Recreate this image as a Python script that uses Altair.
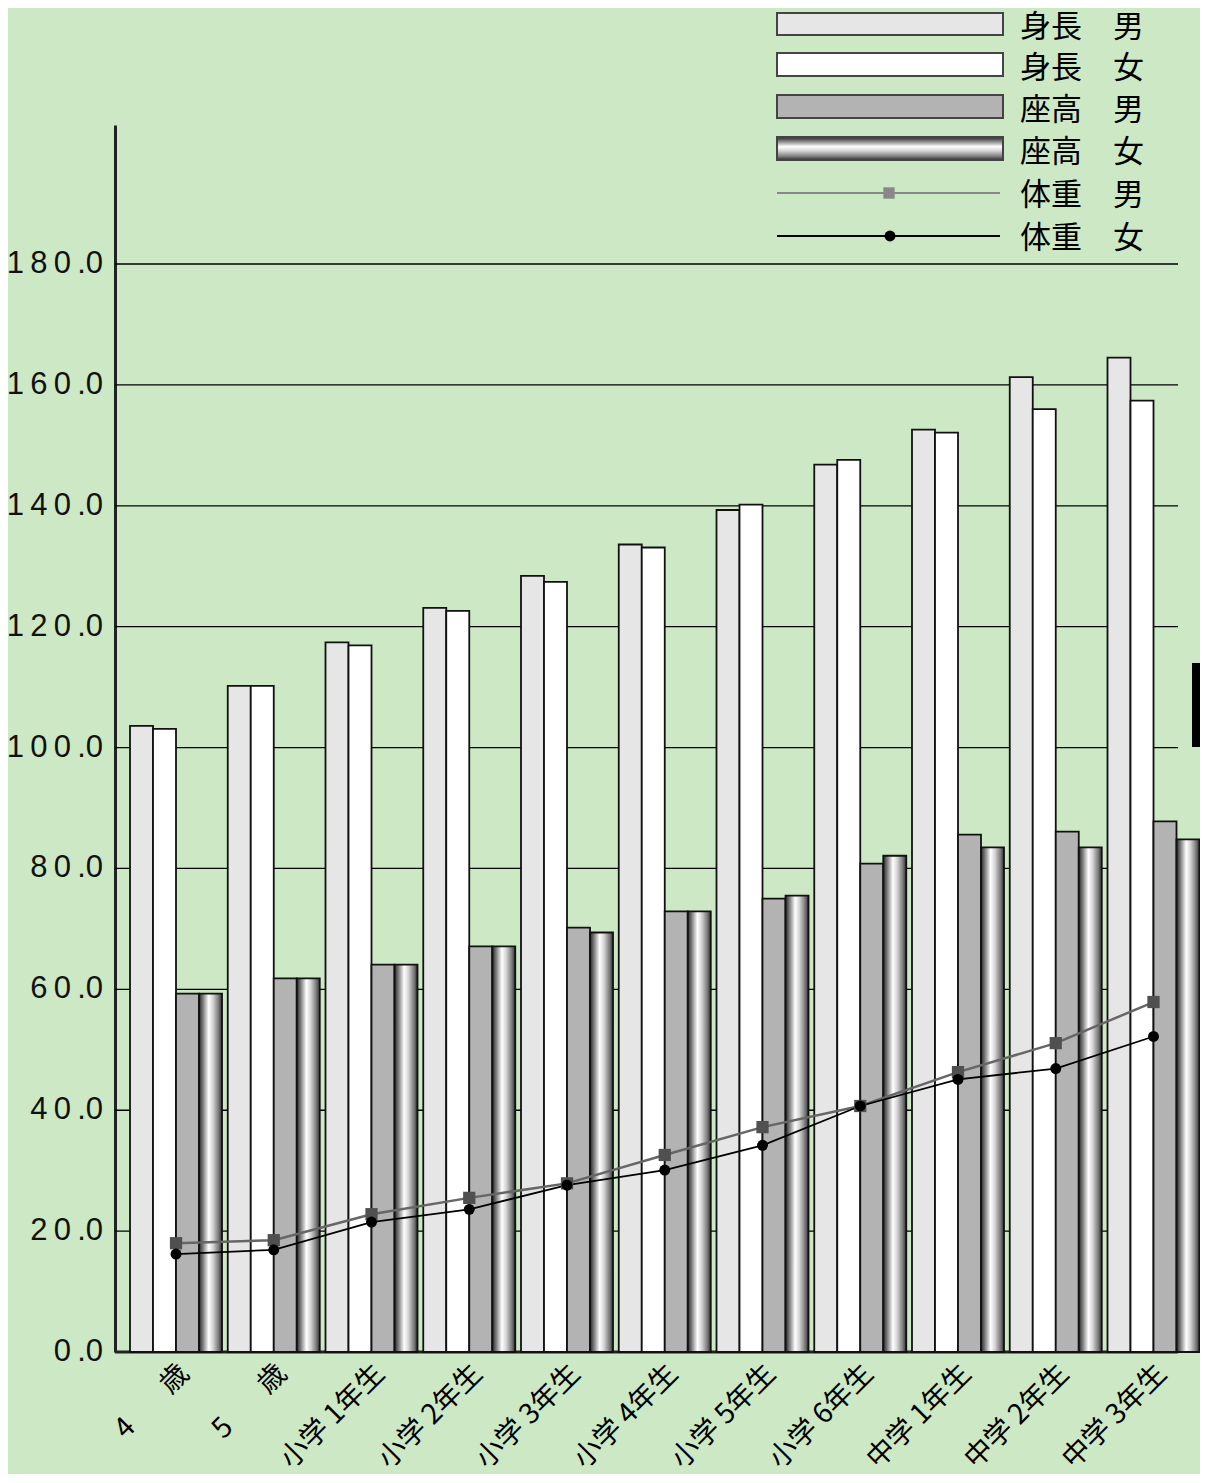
import altair as alt
import pandas as pd

# ---------------- data ----------------
categories = ["4\u3000\u2002 歳", "5\u3000\u2002 歳", "小学 1年生", "小学 2年生", "小学 3年生",
              "小学 4年生", "小学 5年生", "小学 6年生", "中学 1年生", "中学 2年生", "中学 3年生"]
series = ["身長　男", "身長　女", "座高　男", "座高　女"]
height_m = [103.6, 110.2, 117.4, 123.1, 128.4, 133.6, 139.3, 146.8, 152.6, 161.3, 164.5]
height_f = [103.1, 110.2, 116.9, 122.6, 127.4, 133.1, 140.2, 147.6, 152.1, 156.0, 157.4]
sit_m = [59.3, 61.8, 64.1, 67.1, 70.2, 72.9, 75.0, 80.8, 85.6, 86.1, 87.8]
sit_f = [59.3, 61.8, 64.1, 67.1, 69.4, 72.9, 75.5, 82.1, 83.5, 83.5, 84.8]
weight_m = [18.0, 18.5, 22.8, 25.5, 27.9, 32.6, 37.2, 40.7, 46.3, 51.1, 57.9]
weight_f = [16.2, 16.9, 21.5, 23.6, 27.6, 30.1, 34.2, 40.7, 45.1, 46.9, 52.2]
y_ticks = [0, 20, 40, 60, 80, 100, 120, 140, 160, 180]
y_labels = ["\u2009".join(list(str(v))) + "\u2009.0" for v in y_ticks]

BG = "#cce8c4"
FONT_JP = "Noto Sans CJK JP"
FONT_NUM = "Liberation Sans"

bars_df = pd.DataFrame({
    "cat": categories * 3,
    "series": [series[0]] * 11 + [series[1]] * 11 + [series[2]] * 11,
    "v": height_m + height_f + sit_m,
})
grad_df = pd.DataFrame({"cat": categories, "series": [series[3]] * 11, "v": sit_f})
wm_df = pd.DataFrame({"cat": categories, "v": weight_m})
wf_df = pd.DataFrame({"cat": categories, "v": weight_f})
grid_df = pd.DataFrame({"v": y_ticks[1:]})
zero_df = pd.DataFrame({"v": [0]})
ylab_df = pd.DataFrame({"v": y_ticks, "lab": y_labels})

W, H = 1085, 1227

xscale = alt.Scale(paddingInner=0.0588, paddingOuter=0.0793, align=0.968)
xaxis = alt.Axis(title=None, domain=False, ticks=False, grid=False, labelAngle=-45,
                 labelAlign="right", labelBaseline="middle", labelPadding=17,
                 labelOffset=9, labelFont=FONT_JP, labelFontSize=28, labelColor="#000",
                 labelOverlap=False, labelBound=False)
yscale = alt.Scale(domain=[0, 203], nice=False, zero=True)
yaxis = alt.Axis(title=None, labels=False, ticks=False, grid=False,
                 domainColor="#222", domainWidth=3)


def X():
    return alt.X("cat:N", sort=categories, scale=xscale, axis=xaxis, title=None)


def Y():
    return alt.Y("v:Q", scale=yscale, axis=yaxis, title=None)


xoff = alt.XOffset("series:N", sort=series,
                   scale=alt.Scale(domain=series, paddingInner=0, paddingOuter=0))

stops = [("#262626", 0), ("#808080", 0.18), ("#ffffff", 0.42),
         ("#d6d6d6", 0.6), ("#7a7a7a", 0.85), ("#303030", 1)]
grad_h = alt.Gradient(gradient="linear", x1=0, y1=0, x2=1, y2=0,
                      stops=[alt.GradientStop(color=c, offset=o) for c, o in stops])
grad_v = alt.Gradient(gradient="linear", x1=0, y1=0, x2=0, y2=1,
                      stops=[alt.GradientStop(color=c, offset=o) for c, o in stops])

grid = alt.Chart(grid_df).mark_rule(color="#000", strokeWidth=1.3).encode(
    y=Y(), x=alt.value(0), x2=alt.value(1063))
zero = alt.Chart(zero_df).mark_rule(color="#222", strokeWidth=3).encode(
    y=Y(), x=alt.value(0), x2=alt.value(1063))

bars = alt.Chart(bars_df).mark_bar(stroke="#111", strokeWidth=1.8).encode(
    x=X(), xOffset=xoff, y=Y(),
    fill=alt.Fill("series:N", scale=alt.Scale(domain=series[:3],
                                              range=["#e6e6e6", "#ffffff", "#b3b3b3"]),
                  legend=None))
gbars = alt.Chart(grad_df).mark_bar(stroke="#111", strokeWidth=1.8, fill=grad_h).encode(
    x=X(), xOffset=xoff, y=Y())

line_m = alt.Chart(wm_df).mark_line(color="#666", strokeWidth=2.5).encode(x=X(), y=Y())
pts_m = alt.Chart(wm_df).mark_point(shape="square", filled=True, size=150, color="#505050",
                                    opacity=1).encode(x=X(), y=Y())
line_f = alt.Chart(wf_df).mark_line(color="#000", strokeWidth=1.8).encode(x=X(), y=Y())
pts_f = alt.Chart(wf_df).mark_point(shape="circle", filled=True, size=120, color="#000",
                                    opacity=1).encode(x=X(), y=Y())

ylabels = alt.Chart(ylab_df).mark_text(align="right", baseline="middle", font=FONT_NUM,
                                       fontSize=31, color="#111").encode(
    y=Y(), x=alt.value(-12), text="lab:N")

# ---------------- legend (manual) ----------------
one = pd.DataFrame({"a": [0]})
legend_layers = []
rect_fills = ["#e6e6e6", "#ffffff", "#b3b3b3", grad_v]
rect_rows = [(-112, -90), (-72, -49), (-30, -7), (12, 35)]
for fill_, (y1, y2) in zip(rect_fills, rect_rows):
    legend_layers.append(alt.Chart(one).mark_rect(fill=fill_, stroke="#444", strokeWidth=2).encode(
        x=alt.value(662), x2=alt.value(888), y=alt.value(y1), y2=alt.value(y2)))
legend_layers.append(alt.Chart(one).mark_rule(color="#888", strokeWidth=2).encode(
    x=alt.value(662), x2=alt.value(885), y=alt.value(68)))
legend_layers.append(alt.Chart(one).mark_point(shape="square", filled=True, size=130,
                                               color="#888", opacity=1).encode(
    x=alt.value(774), y=alt.value(68)))
legend_layers.append(alt.Chart(one).mark_rule(color="#000", strokeWidth=1.8).encode(
    x=alt.value(662), x2=alt.value(885), y=alt.value(111)))
legend_layers.append(alt.Chart(one).mark_point(shape="circle", filled=True, size=120,
                                               color="#000", opacity=1).encode(
    x=alt.value(775), y=alt.value(111)))
legend_texts = series + ["体重　男", "体重　女"]
text_ys = [-97, -56, -14, 28, 71, 114]
for t, ty in zip(legend_texts, text_ys):
    legend_layers.append(alt.Chart(pd.DataFrame({"t": [t]})).mark_text(
        align="left", baseline="middle", font=FONT_JP, fontSize=31, color="#000").encode(
        x=alt.value(905), y=alt.value(ty), text="t:N"))

tab = alt.Chart(one).mark_rect(fill="#000").encode(
    x=alt.value(1077), x2=alt.value(1085), y=alt.value(538), y2=alt.value(622))

chart = alt.layer(grid, zero, bars, gbars, line_m, line_f, pts_m, pts_f, ylabels,
                  *legend_layers, tab).properties(
    width=W, height=H,
    autosize=alt.AutoSizeParams(type="none"),
    padding={"left": 107, "top": 117, "right": 0, "bottom": 122},
).configure(background=BG).configure_view(stroke=None)

chart.save("out.html", embed_options={"renderer": "svg", "actions": False})
